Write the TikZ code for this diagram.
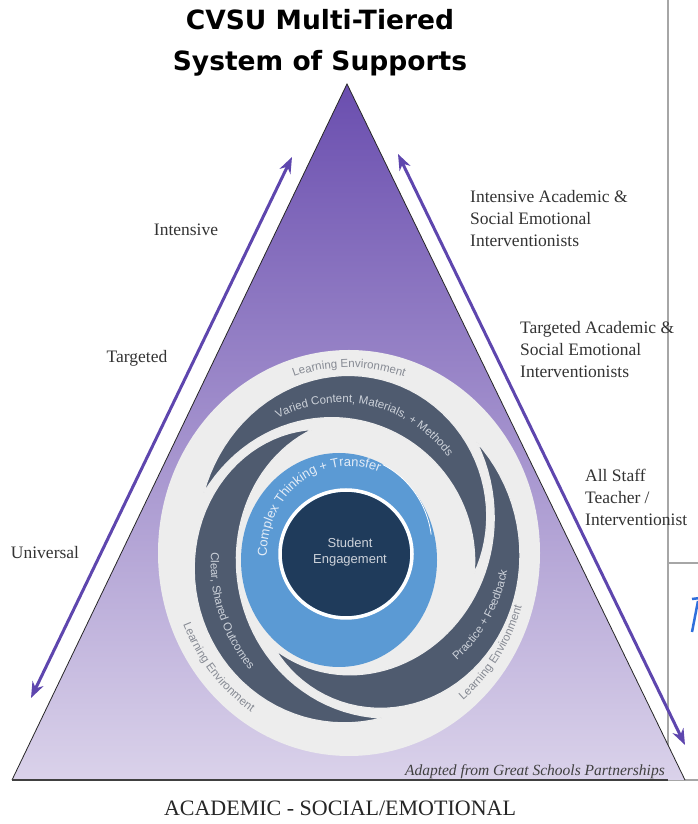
\documentclass[tikz,border=0pt]{standalone}
\usepackage{fontspec}
\setmainfont{Liberation Serif}
\newfontfamily\titlefont{DejaVu Sans}
\newfontfamily\ringfont{Liberation Sans}
\usetikzlibrary{arrows.meta,decorations.text}

\definecolor{tiertop}{HTML}{6A4EAF}
\definecolor{tiermid}{HTML}{A08ED0}
\definecolor{tierbot}{HTML}{DAD2EA}
\definecolor{arrowpurple}{HTML}{5E46AE}
\definecolor{ringgray}{HTML}{EDEDED}
\definecolor{armslate}{HTML}{4F5B6F}
\definecolor{ringblue}{HTML}{5B9AD4}
\definecolor{corenavy}{HTML}{1F3B5B}
\definecolor{envtext}{HTML}{868A93}
\definecolor{armtext}{HTML}{CDD2DA}
\definecolor{bluetext}{HTML}{E3ECF7}
\definecolor{framegray}{HTML}{A6A6A6}
\definecolor{markblue}{HTML}{2F6FDC}

\tikzset{
  tierarrow/.style={arrowpurple, line width=3pt,
    {Stealth[length=16pt,width=12pt]}-{Stealth[length=16pt,width=12pt]}},
  tierlabel/.style={font=\fontsize{17.5}{22}\selectfont, text=black!80, inner sep=0pt},
  staffnote/.style={tierlabel, anchor=west, align=left},
  ringpath/.style={decorate, decoration={text along path, text align=center, text={#1}}}
}

% one arm of the swirl, #1 = start angle, running clockwise and inwards
\newcommand{\swirlarm}[1]{%
  \filldraw[fill=armslate, draw=ringgray, line width=1.2pt] plot[variable=\t, domain=0:1, samples=50]
    ({5+(160-38*\t+22*sin(180*\t))*cos(#1-170*\t)},{2+1.06*(160-38*\t+22*sin(180*\t))*sin(#1-170*\t)})
    -- plot[variable=\t, domain=1:0, samples=50]
    ({5+(160-38*\t-21*sin(180*\t))*cos(#1-170*\t)},{2+1.06*(160-38*\t-21*sin(180*\t))*sin(#1-170*\t)})
    -- cycle;}

\newcommand{\envfont}{\ringfont\fontsize{11.5}{11.5}\selectfont\color{envtext}}
\newcommand{\armfont}{\ringfont\fontsize{11.5}{11.5}\selectfont\color{armtext}}

\begin{document}
\begin{tikzpicture}[x=1pt,y=1pt]
\useasboundingbox (0,0) rectangle (698,824);
\fill[white] (0,0) rectangle (698,824);

% frame lines on the right
\draw[framegray, line width=1.5pt] (668,824) -- (668,44) -- (698,44);
\draw[framegray, line width=1.5pt] (668,261) -- (698,261);
\begin{scope}
  \clip (668,0) rectangle (698,824);
  \draw[markblue, line width=2.5pt] (692,225) -- (700,226);
  \draw[markblue, line width=2.5pt] (698,223) -- (692,192);
\end{scope}

% the triangle
\coordinate (bl) at (12,44);
\coordinate (apex) at (347,740);
\coordinate (br) at (685,44);
\shade[top color=tiertop, middle color=tiermid, bottom color=tierbot] (bl) -- (apex) -- (br) -- cycle;
\draw[black!85, line width=0.8pt] (bl) -- (apex) -- (br);
\draw[black!75, line width=1.5pt] (bl) -- (668,44);

% side arrows
\coordinate (lowL) at (31,126);
\coordinate (topL) at (292,667);
\coordinate (topR) at (398,670);
\coordinate (lowR) at (685,79);
\draw[tierarrow] (lowL) -- (topL);
\draw[tierarrow] (topR) -- (lowR);

% circle in the middle
\begin{scope}[shift={(349,271)}]
  \fill[ringgray] (0,0) ellipse [x radius=191, y radius=203];
  \swirlarm{160}
  \swirlarm{40}
  \swirlarm{-80}
  \fill[ringblue] (-10,-7) ellipse [x radius=98, y radius=107];
  \draw[white, line width=0.8pt] plot[domain=68:12, samples=30]
    ({(84+(\x-12)*6/56)*cos(\x)},{1.06*(84+(\x-12)*6/56)*sin(\x)});
  \draw[corenavy, fill=corenavy] (-3,-1) ellipse [x radius=64, y radius=62];
  \draw[white, line width=3.5pt] (-3,-1) ellipse [x radius=66, y radius=64];
  \node[font=\ringfont\fontsize{13}{16}\selectfont, text=armtext, align=center] (core) at (1,1)
    {Student\\Engagement};

  \path[ringpath={|\ringfont\fontsize{13}{13}\selectfont\color{bluetext}|Complex Thinking + Transfer}]
    plot[domain=205:45, samples=60] ({82*cos(\x)},{1.06*82*sin(\x)});
  \path[ringpath={|\armfont|Varied Content, Materials, + Methods}]
    plot[domain=150:10, samples=60]
    ({5+(155-38*(160-\x)/170)*cos(\x)},{2+1.06*(155-38*(160-\x)/170)*sin(\x)});
  \path[ringpath={|\armfont|Practice + Feedback}]
    plot[domain=-80:23, samples=60]
    ({5+(165-38*(40-\x)/170)*cos(\x)},{2+1.06*(165-38*(40-\x)/170)*sin(\x)});
  \path[ringpath={|\armfont|Clear, Shared Outcomes}]
    plot[domain=150:255, samples=60]
    ({5+(165-38*(280-\x)/170)*cos(\x)},{2+1.06*(165-38*(280-\x)/170)*sin(\x)});
  \path[ringpath={|\envfont|Learning Environment}]
    plot[domain=150:30, samples=60] ({175*cos(\x)},{1.06*175*sin(\x)});
  \path[ringpath={|\envfont|Learning Environment}]
    plot[domain=180:260, samples=60] ({179*cos(\x)},{1.06*179*sin(\x)});
  \path[ringpath={|\envfont|Learning Environment}]
    plot[domain=-75:7, samples=60] ({180*cos(\x)},{1.06*180*sin(\x)});
\end{scope}

% texts
\node[font=\titlefont\bfseries\fontsize{26.5}{41}\selectfont, align=center] (title) at (320,781)
  {CVSU Multi-Tiered\\System of Supports};
\node[tierlabel] (intensive) at (186,594) {Intensive};
\node[tierlabel] (targeted) at (137,466) {Targeted};
\node[tierlabel] (universal) at (45,271) {Universal};
\node[staffnote] (intStaff) at (470,605) {Intensive Academic \&\\Social Emotional\\Interventionists};
\node[staffnote] (tarStaff) at (520,474) {Targeted Academic \&\\Social Emotional\\Interventionists};
\node[staffnote] (allStaff) at (585,327) {All Staff\\Teacher /\\Interventionist};
\node[font=\itshape\fontsize{15.5}{16}\selectfont, text=black!75, anchor=east, inner sep=0pt] (source)
  at (665,52) {Adapted from Great Schools Partnerships};
\node[font=\fontsize{22}{22}\selectfont, text=black!85, inner sep=0pt] (domain) at (340,16)
  {ACADEMIC - SOCIAL/EMOTIONAL};
\end{tikzpicture}
\end{document}
